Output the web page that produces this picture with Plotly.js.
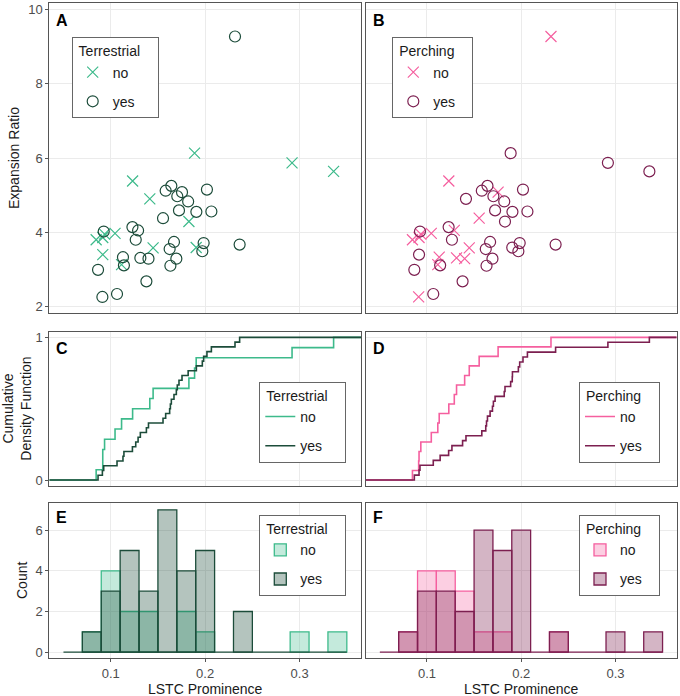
<!DOCTYPE html>
<html>
<head>
<meta charset="utf-8">
<script src="https://cdn.plot.ly/plotly-3.0.1.min.js"></script>
<style>body{margin:0;background:#fff}</style>
</head>
<body>
<div id="chart" style="width:680px;height:696px"></div>
<script>
// one entry per species: LSTC prominence, expansion ratio and the two habit flags
var lstc = [0.0846, 0.0916, 0.0916, 0.0935, 0.1046, 0.1115, 0.1232, 0.1414, 0.1449, 0.1828,
            0.1888, 0.1905, 0.292, 0.336,
            0.1642, 0.1582, 0.1755, 0.1705, 0.2019, 0.182, 0.1723, 0.1907, 0.2066, 0.1554,
            0.0926, 0.123, 0.129, 0.1265, 0.167, 0.1624, 0.1695, 0.1632, 0.1984, 0.197,
            0.113, 0.114, 0.1314, 0.140, 0.0866, 0.1378, 0.0912, 0.1067, 0.2316, 0.2365];
var expansion = [3.80, 3.86, 3.40, 3.95, 3.97, 3.13, 5.38, 4.90, 3.58, 4.29,
                 6.13, 3.59, 5.87, 5.64,
                 5.25, 5.12, 5.08, 4.97, 5.15, 4.83, 4.59, 4.55, 4.56, 4.38,
                 4.02, 4.14, 4.05, 3.80, 3.74, 3.55, 3.29, 3.10, 3.71, 3.49,
                 3.33, 3.11, 3.31, 3.29, 2.99, 2.68, 2.26, 2.34, 9.27, 3.67];
var terrestrial = ['no','no','no','no','no','no','no','no','no','no','no','no','no','no',
                   'yes','yes','yes','yes','yes','yes','yes','yes','yes','yes',
                   'yes','yes','yes','yes','yes','yes','yes','yes','yes','yes',
                   'yes','yes','yes','yes','yes','yes','yes','yes','yes','yes'];
var perching = ['no','no','yes','no','no','no','no','yes','no','yes','yes','yes','yes','yes',
                'yes','yes','no','yes','yes','yes','yes','yes','yes','no',
                'yes','yes','no','yes','yes','yes','yes','yes','yes','yes',
                'no','yes','no','no','yes','yes','no','yes','no','yes'];

var levels = ['no', 'yes'];
var xRange = [0.035, 0.365];
var binStart = 0.05, binEnd = 0.35, binSize = 0.02;

var palettes = {
  Terrestrial: {no: '#3dba8b', yes: '#1c4c3a', fillNo: 'rgba(61,186,139,0.3)', fillYes: 'rgba(28,76,58,0.33)'},
  Perching: {no: '#f55f9f', yes: '#7c1f50', fillNo: 'rgba(245,95,159,0.3)', fillYes: 'rgba(124,31,80,0.33)'}
};

function pick(arr, groups, lev) {
  return arr.filter(function (v, i) { return groups[i] === lev; });
}

function ecdf(xs) {
  var s = xs.slice().sort(function (a, b) { return a - b; });
  var x = [xRange[0]], y = [0];
  s.forEach(function (v, i) { x.push(v); y.push((i + 1) / s.length); });
  x.push(xRange[1]); y.push(1);
  return {x: x, y: y};
}

var traces = [];
var FONT = 'Liberation Sans, Arial, Helvetica, sans-serif';

function addColumn(name, groups, col) {
  var pal = palettes[name];
  var ax = col === 0 ? ['x', 'y', 'x3', 'y3', 'x5', 'y5'] : ['x2', 'y2', 'x4', 'y4', 'x6', 'y6'];
  var lg = col === 0 ? ['legend', 'legend3', 'legend5'] : ['legend2', 'legend4', 'legend6'];

  levels.forEach(function (lev) {
    var isNo = lev === 'no';
    traces.push({
      type: 'scatter', mode: 'markers', name: lev, legend: lg[0], legendgroup: name + 'a' + lev,
      x: pick(lstc, groups, lev), y: pick(expansion, groups, lev),
      xaxis: ax[0], yaxis: ax[1],
      marker: {symbol: isNo ? 'x-thin-open' : 'circle-open', size: 11,
               color: pal[lev], line: {color: pal[lev], width: 1.2}}
    });
  });

  levels.forEach(function (lev) {
    var e = ecdf(pick(lstc, groups, lev));
    traces.push({
      type: 'scatter', mode: 'lines', name: lev, legend: lg[1], legendgroup: name + 'c' + lev,
      x: e.x, y: e.y, xaxis: ax[2], yaxis: ax[3],
      line: {shape: 'hv', color: pal[lev], width: 1.6}
    });
  });

  levels.forEach(function (lev) {
    var isNo = lev === 'no';
    traces.push({
      type: 'histogram', name: lev, legend: lg[2], legendgroup: name + 'h' + lev,
      x: pick(lstc, groups, lev), xaxis: ax[4], yaxis: ax[5],
      autobinx: false, xbins: {start: binStart, end: binEnd, size: binSize},
      marker: {color: isNo ? pal.fillNo : pal.fillYes, line: {color: pal[lev], width: 1.3}}
    });
  });

  // zero-count bins show as a baseline in the original
  traces.push({
    type: 'scatter', mode: 'lines', showlegend: false, hoverinfo: 'skip',
    x: [binStart, binEnd], y: [0, 0], xaxis: ax[4], yaxis: ax[5],
    line: {color: pal.yes, width: 1.3}
  });
}

addColumn('Terrestrial', terrestrial, 0);
addColumn('Perching', perching, 1);

var W = 680, H = 696;
function px(v) { return v / W; }
function py(v) { return 1 - v / H; }

var colX = [[49.3, 361], [365.7, 676.7]];
var rowY = [[2.7, 313.3], [331.7, 485.7], [503.3, 658.3]];

function xaxis(col, row, anchor) {
  var bottom = row === 2;
  return {
    anchor: anchor,
    domain: [px(colX[col][0]), px(colX[col][1])], range: xRange,
    tickvals: [0.1, 0.2, 0.3], ticktext: ['0.1', '0.2', '0.3'],
    showticklabels: bottom, ticks: bottom ? 'outside' : '', ticklen: 3, tickcolor: '#555',
    tickfont: {size: 13, color: '#4d4d4d'},
    showgrid: true, gridcolor: '#ebebeb', gridwidth: 1, zeroline: false,
    showline: true, mirror: true, linecolor: '#555', linewidth: 1
  };
}
function yaxis(row, col, anchor, range, tickvals) {
  return {
    anchor: anchor,
    domain: [py(rowY[row][1]), py(rowY[row][0])], range: range, tickvals: tickvals,
    showticklabels: col === 0, ticks: col === 0 ? 'outside' : '', ticklen: 3, tickcolor: '#555',
    tickfont: {size: 13, color: '#4d4d4d'},
    showgrid: true, gridcolor: '#ebebeb', gridwidth: 1, zeroline: false,
    showline: true, mirror: true, linecolor: '#555', linewidth: 1
  };
}

function legendAt(x, y, title) {
  return {
    x: px(x), y: py(y), xanchor: 'left', yanchor: 'top',
    bgcolor: '#fff', bordercolor: '#666', borderwidth: 1,
    font: {size: 14, color: '#1a1a1a', family: FONT},
    title: {text: '&nbsp;' + title + '&nbsp;&nbsp;&nbsp;&nbsp;', font: {size: 14, color: '#1a1a1a', family: FONT}},
    traceorder: 'grouped', tracegroupgap: 8
  };
}

var letters = [['A', 54, 20.5], ['B', 371, 20.5], ['C', 54, 349], ['D', 371, 349], ['E', 54, 517], ['F', 371, 517]];
var annotations = letters.map(function (l) {
  return {text: '<b>' + l[0] + '</b>', x: px(l[1]), y: py(l[2]), xref: 'paper', yref: 'paper',
          xanchor: 'left', yanchor: 'middle', showarrow: false, font: {size: 16, color: '#000'}};
});
var titleFont = {size: 14, color: '#1a1a1a'};
function axisTitle(text, x, y, angle) {
  return {text: text, textangle: angle, x: px(x), y: py(y), xref: 'paper', yref: 'paper',
          xanchor: 'center', yanchor: 'middle', showarrow: false, font: titleFont};
}
annotations.push(
  axisTitle('Expansion Ratio', 14, 158, -90),
  axisTitle('Cumulative<br>Density Function', 17, 408.7, -90),
  axisTitle('Count', 22, 581, -90),
  axisTitle('LSTC Prominence', 205, 689, 0),
  axisTitle('LSTC Prominence', 521, 689, 0)
);

var layout = {
  width: W, height: H,
  margin: {l: 0, r: 0, t: 0, b: 0},
  paper_bgcolor: '#fff', plot_bgcolor: '#fff',
  font: {family: FONT, size: 13, color: '#1a1a1a'},
  barmode: 'overlay', bargap: 0,
  xaxis: xaxis(0, 0, 'y'), xaxis2: xaxis(1, 0, 'y2'),
  xaxis3: xaxis(0, 1, 'y3'), xaxis4: xaxis(1, 1, 'y4'),
  xaxis5: xaxis(0, 2, 'y5'), xaxis6: xaxis(1, 2, 'y6'),
  yaxis: yaxis(0, 0, 'x', [1.82, 10.18], [2, 4, 6, 8, 10]),
  yaxis2: yaxis(0, 1, 'x2', [1.82, 10.18], [2, 4, 6, 8, 10]),
  yaxis3: yaxis(1, 0, 'x3', [-0.04, 1.04], [0, 1]),
  yaxis4: yaxis(1, 1, 'x4', [-0.04, 1.04], [0, 1]),
  yaxis5: yaxis(2, 0, 'x5', [-0.3, 7.32], [0, 2, 4, 6]),
  yaxis6: yaxis(2, 1, 'x6', [-0.3, 7.32], [0, 2, 4, 6]),
  legend: legendAt(71.7, 37.3, 'Terrestrial'),
  legend2: legendAt(392.3, 37.3, 'Perching'),
  legend3: legendAt(259.3, 381.7, 'Terrestrial'),
  legend4: legendAt(579, 381.7, 'Perching'),
  legend5: legendAt(259.3, 515, 'Terrestrial'),
  legend6: legendAt(579, 515, 'Perching'),
  annotations: annotations,
  showlegend: true
};

Plotly.newPlot('chart', traces, layout, {displayModeBar: false, staticPlot: true});
</script>
</body>
</html>
